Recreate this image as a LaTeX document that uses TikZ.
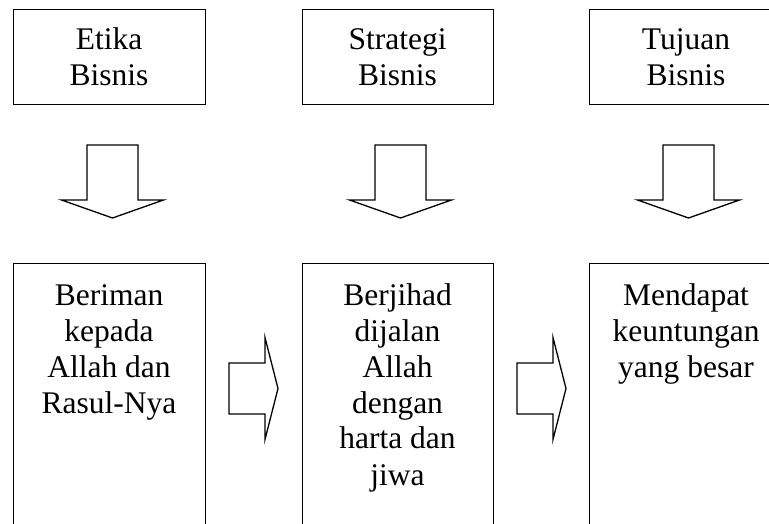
\documentclass[tikz,border=0pt]{standalone}
\usepackage{fontspec}
\setmainfont{Liberation Serif}
\begin{document}
\begin{tikzpicture}[x=1pt,y=-1pt,
  box/.style={draw, line width=1.3pt, rectangle, inner sep=0pt, anchor=north west},
  lbl/.style={anchor=base, inner sep=0pt, font=\fontsize{31.5}{36}\selectfont},
  blk/.style={draw, line width=1.3pt, line join=miter}]
\useasboundingbox (0,0) rectangle (769,524);
\clip (0,0) rectangle (769,524);
% top boxes
\node[box, minimum width=192pt, minimum height=95pt] (tb1) at (13,9) {};
\node[box, minimum width=191pt, minimum height=95pt] (tb2) at (302,9) {};
\node[box, minimum width=192pt, minimum height=95pt] (tb3) at (589,9) {};
\node[lbl] (tt1) at (109,50) {\begin{tabular}[t]{@{}c@{}}Etika\\Bisnis\end{tabular}};
\node[lbl] (tt2) at (397.5,50) {\begin{tabular}[t]{@{}c@{}}Strategi\\Bisnis\end{tabular}};
\node[lbl] (tt3) at (686,50) {\begin{tabular}[t]{@{}c@{}}Tujuan\\Bisnis\end{tabular}};
% bottom boxes
\node[box, minimum width=192pt, minimum height=300pt] (bb1) at (13,263) {};
\node[box, minimum width=191pt, minimum height=300pt] (bb2) at (302,263) {};
\node[box, minimum width=192pt, minimum height=300pt] (bb3) at (589,263) {};
\node[lbl] (bt1) at (109,305) {\begin{tabular}[t]{@{}c@{}}Beriman\\kepada\\Allah dan\\Rasul-Nya\end{tabular}};
\node[lbl] (bt2) at (397.5,305) {\begin{tabular}[t]{@{}c@{}}Berjihad\\dijalan\\Allah\\dengan\\harta dan\\jiwa\end{tabular}};
\node[lbl] (bt3) at (686,305) {\begin{tabular}[t]{@{}c@{}}Mendapat\\keuntungan\\yang besar\end{tabular}};
% down block arrows
\coordinate (da1) at (112.5,145);
\coordinate (da2) at (400.5,145);
\coordinate (da3) at (688.5,145);
\foreach \c in {da1,da2,da3}{
  \draw[blk] (\c) ++(-25.5,0) -- ++(51,0) -- ++(0,55) -- ++(25.5,0) -- ++(-51,18) -- ++(-51,-18) -- ++(25.5,0) -- cycle;
}
% right block arrows
\coordinate (ra1) at (229,388.5);
\coordinate (ra2) at (517,388.5);
\foreach \c in {ra1,ra2}{
  \draw[blk] (\c) ++(0,-25.5) -- ++(36,0) -- ++(0,-25.5) -- ++(13,51) -- ++(-13,51) -- ++(0,-25.5) -- ++(-36,0) -- cycle;
}
\end{tikzpicture}
\end{document}
